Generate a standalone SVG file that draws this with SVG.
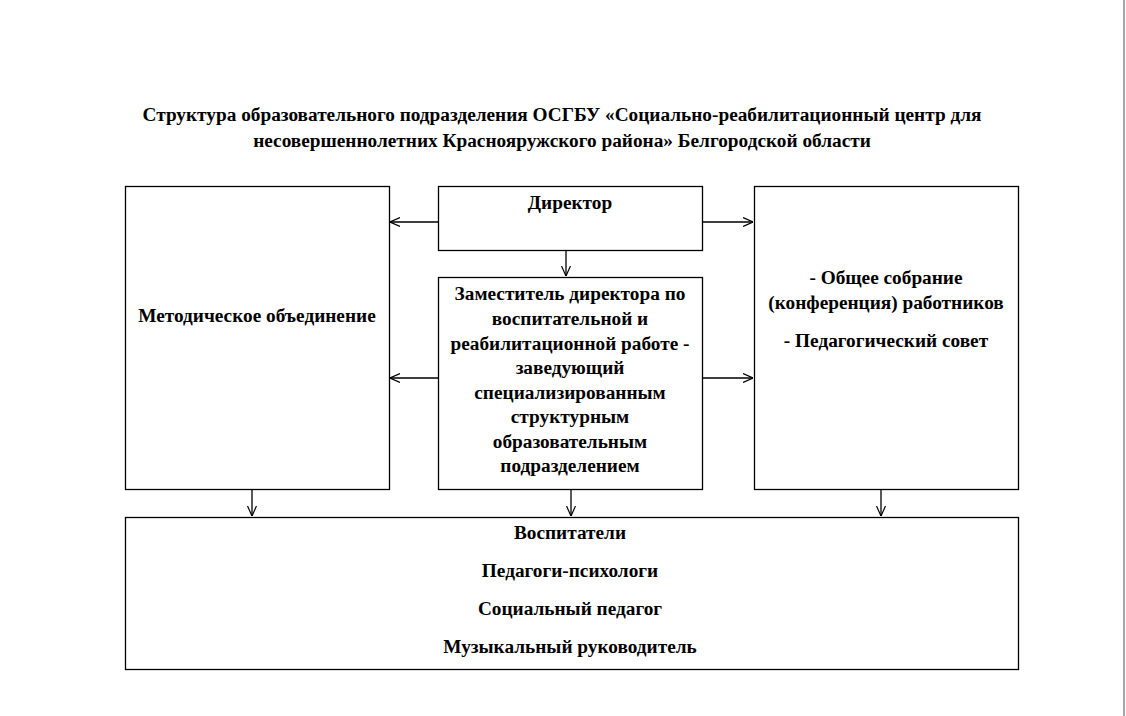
<svg xmlns="http://www.w3.org/2000/svg" width="1126" height="716" viewBox="0 0 1126 716">
<style>
.box{fill:#fff;stroke:#000;stroke-width:1.3}
.t{font-family:"Liberation Serif","Times New Roman",serif;font-weight:bold;font-size:19.3px;fill:#000;text-anchor:middle}
.ti{font-family:"Liberation Serif","Times New Roman",serif;font-weight:bold;font-size:19.3px;fill:#000;text-anchor:middle}
.c{stroke:#000;stroke-width:1.3;fill:none}
</style>
<defs>
<marker id="ah" viewBox="0 0 10 10" refX="10" refY="5" markerWidth="10" markerHeight="10" markerUnits="userSpaceOnUse" orient="auto">
<path d="M0,0.5 L10,5 L0,9.5" fill="none" stroke="#000" stroke-width="1.2"/>
</marker>
</defs>
<rect x="0" y="0" width="1126" height="716" fill="#fff"/>
<rect x="1123" y="0" width="2" height="716" fill="#a3a3aa"/>
<g id="title">
<text class="ti" x="562" y="121">Структура образовательного подразделения ОСГБУ «Социально-реабилитационный центр для</text>
<text class="ti" x="562" y="147">несовершеннолетних Краснояружского района» Белгородской области</text>
</g>
<g id="connectors">
<line class="c" x1="438" y1="222" x2="390" y2="222" marker-end="url(#ah)"/>
<line class="c" x1="702" y1="222" x2="753" y2="222" marker-end="url(#ah)"/>
<line class="c" x1="566" y1="250" x2="566" y2="276" marker-end="url(#ah)"/>
<line class="c" x1="438" y1="378" x2="390" y2="378" marker-end="url(#ah)"/>
<line class="c" x1="702" y1="378" x2="753" y2="378" marker-end="url(#ah)"/>
<line class="c" x1="252" y1="489" x2="252" y2="516" marker-end="url(#ah)"/>
<line class="c" x1="571" y1="489" x2="571" y2="516" marker-end="url(#ah)"/>
<line class="c" x1="881" y1="489" x2="881" y2="516" marker-end="url(#ah)"/>
</g>
<g id="metod">
<rect class="box" x="125.5" y="186.5" width="264" height="303"/>
<text class="t" x="257" y="322">Методическое объединение</text>
</g>
<g id="director">
<rect class="box" x="438.5" y="186.5" width="264" height="64"/>
<text class="t" x="570" y="209">Директор</text>
</g>
<g id="deputy">
<rect class="box" x="438.5" y="277.5" width="264" height="212"/>
<text class="t" x="570" y="300">Заместитель директора по</text>
<text class="t" x="570" y="325">воспитательной и</text>
<text class="t" x="570" y="350">реабилитационной работе -</text>
<text class="t" x="570" y="374">заведующий</text>
<text class="t" x="570" y="399">специализированным</text>
<text class="t" x="570" y="423">структурным</text>
<text class="t" x="570" y="448">образовательным</text>
<text class="t" x="570" y="472">подразделением</text>
</g>
<g id="council">
<rect class="box" x="754.5" y="186.5" width="264" height="303"/>
<text class="t" x="886" y="284">- Общее собрание</text>
<text class="t" x="886" y="309">(конференция) работников</text>
<text class="t" x="886" y="347">- Педагогический совет</text>
</g>
<g id="staff">
<rect class="box" x="125.5" y="517.5" width="893" height="152"/>
<text class="t" x="570" y="539">Воспитатели</text>
<text class="t" x="570" y="577">Педагоги-психологи</text>
<text class="t" x="570" y="615">Социальный педагог</text>
<text class="t" x="570" y="653">Музыкальный руководитель</text>
</g>
</svg>
